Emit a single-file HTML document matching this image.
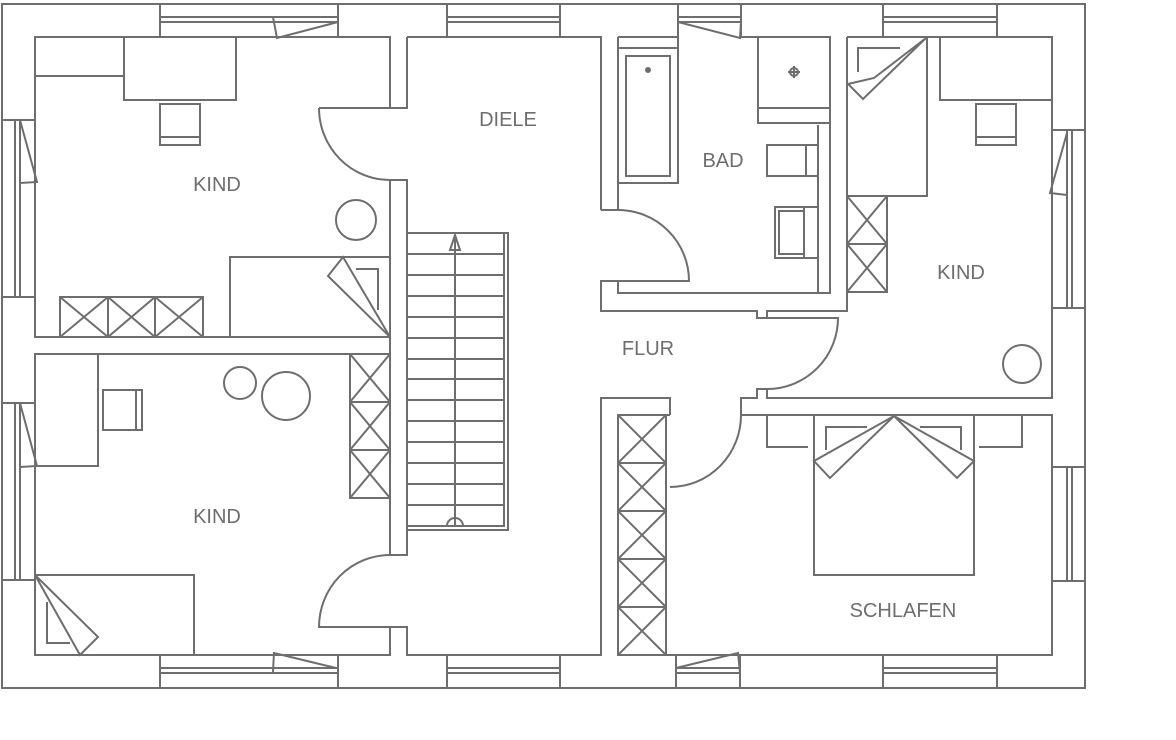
<!DOCTYPE html>
<html><head><meta charset="utf-8"><style>
html,body{margin:0;padding:0;background:#fff;}
svg{display:block;}
text{font-family:"Liberation Sans Narrow","Liberation Sans",sans-serif;font-size:20px;fill:#6e6e6e;text-anchor:middle;}
</style></head><body>
<svg width="1176" height="740" viewBox="0 0 1176 740" xmlns="http://www.w3.org/2000/svg">
<g fill="none" stroke="#6e6e6e" stroke-width="2">
<rect x="2" y="4" width="1083" height="684"/>
<path d="M160,4V37M338,4V37M160,17H338M160,22H338M273,17L277,38L338,22"/>
<path d="M447,4V37M560,4V37M447,17H560M447,22H560"/>
<path d="M678,4V37M741,4V37M678,17H741M678,22H741M678,22L740,38L741,22"/>
<path d="M883,4V37M997,4V37M883,17H997M883,22H997"/>
<path d="M160,655V688M338,655V688M160,668H338M160,673H338M274,652L273,672M274,653L336,668"/>
<path d="M447,655V688M560,655V688M447,668H560M447,673H560"/>
<path d="M676,655V688M740,655V688M676,668H740M676,673H740M676,668L738,653L740,673"/>
<path d="M883,655V688M997,655V688M883,668H997M883,673H997"/>
<path d="M2,120H35M2,297H35M15,120V297M20,120V297M20,120L37,182L20,183"/>
<path d="M2,403H35M2,580H35M15,403V580M20,403V580M20,403L37,466L20,467"/>
<path d="M1052,130H1085M1052,308H1085M1067,130V308M1072,130V308M1067,133L1050,193L1067,195"/>
<path d="M1052,467H1085M1052,581H1085M1067,467V581M1072,467V581"/>
<path d="M390,108V37H35V337H390V180"/>
<path d="M319,108H407V37"/>
<path d="M319,108A71,72 0 0 0 390,180H407V555H390"/>
<path d="M390,180V555"/>
<path d="M390,555V354H35V655H390V627"/>
<path d="M390,555A71,72 0 0 0 319,627H407V655H601V398H670V415M618,415H670"/>
<path d="M407,37H601V210M618,37V210M601,210H618"/>
<path d="M618,37H678M741,37H830V125"/>
<path d="M618,210A71,71 0 0 1 689,281H601V311H757V318H767V311H847V37M830,125V293H618V281"/>
<path d="M818,125V293"/>
<path d="M847,37H1052V398H767V389H757V398H741V415H1052V655H618V415"/>
<path d="M767,318H838A71,71 0 0 1 767,389"/>
<path d="M741,415A71,72 0 0 1 670,487"/>
<path d="M407,233H508V530H407M504,233V526H407"/>
<path d="M407,254H504M407,275H504M407,296H504M407,317H504M407,338H504M407,359H504M407,379H504M407,400H504M407,421H504M407,442H504M407,463H504M407,484H504M407,505H504"/>
<path d="M455,526V236M450,250L455,235L460,250Z"/>
<path d="M447,526A8,8 0 0 1 463,526"/>
<path d="M35,76H124M124,37V100H236V37"/>
<rect x="160" y="104" width="40" height="41"/><path d="M160,137H200"/>
<circle cx="356" cy="220" r="20"/>
<path d="M230,337V257H390"/>
<path d="M356,269H378V310M390,337L343,257L328,276Z"/>
<rect x="60" y="297" width="143" height="40"/>
<path d="M108,297V337M155,297V337M60,297L108,337M108,297L60,337M108,297L155,337M155,297L108,337M155,297L203,337M203,297L155,337"/>
<path d="M35,466H98V354"/>
<rect x="103" y="390" width="39" height="40"/><path d="M136,390V430"/>
<circle cx="240" cy="383" r="16"/><circle cx="286" cy="396" r="24"/>
<rect x="350" y="354" width="40" height="144"/>
<path d="M350,402H390M350,450H390M350,354L390,402M390,354L350,402M350,402L390,450M390,402L350,450M350,450L390,498M390,450L350,498"/>
<path d="M35,575H194V655"/>
<path d="M35,575L80,655L98,637Z M47,602V643H70"/>
<path d="M618,48H678V183H618M678,37V48"/>
<rect x="626" y="56" width="44" height="120"/>
<circle cx="648" cy="70" r="2" fill="#6e6e6e"/>
<path d="M758,37V123H830M758,108H830"/>
<path d="M788,72H800M794,66V78"/><circle cx="794" cy="72" r="4"/>
<path d="M818,145H767V176H818M806,145V176"/>
<path d="M818,207H775V258H818M804,207V258"/>
<rect x="779" y="211" width="25" height="43"/>
<path d="M927,37V196H847"/>
<path d="M858,72V48H900M926,38L874,78L848,84L863,99Z"/>
<path d="M940,37V100H1052"/>
<rect x="976" y="104" width="40" height="41"/><path d="M976,137H1016"/>
<rect x="847" y="196" width="40" height="96"/>
<path d="M847,244H887M847,196L887,244M887,196L847,244M847,244L887,292M887,244L847,292"/>
<circle cx="1022" cy="364" r="19"/>
<rect x="618" y="415" width="48" height="240"/>
<path d="M618,463H666M618,511H666M618,559H666M618,607H666"/>
<path d="M618,415L666,463M666,415L618,463M618,463L666,511M666,463L618,511M618,511L666,559M666,511L618,559M618,559L666,607M666,559L618,607M618,607L666,655M666,607L618,655"/>
<path d="M767,415V447H808M1022,415V447H979"/>
<rect x="814" y="415" width="160" height="160"/>
<path d="M826,450V427H867M961,450V427H920"/>
<path d="M894,416L814,461L830,478Z M894,416L974,461L957,478Z"/>
</g>
<text x="508" y="126">DIELE</text>
<text x="723" y="167">BAD</text>
<text x="217" y="191">KIND</text>
<text x="648" y="355">FLUR</text>
<text x="961" y="279">KIND</text>
<text x="217" y="523">KIND</text>
<text x="903" y="617">SCHLAFEN</text>
</svg>
</body></html>
